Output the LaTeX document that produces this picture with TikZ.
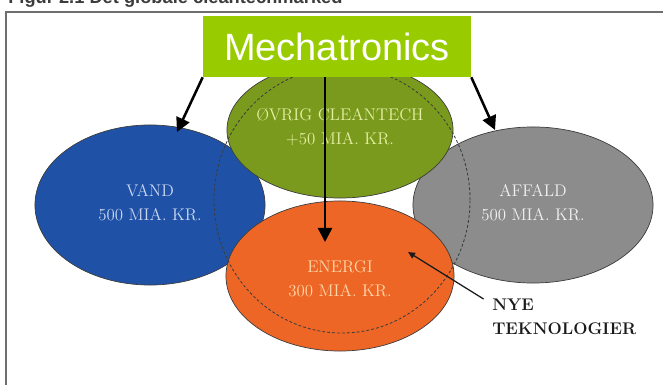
\documentclass[tikz,border=0pt]{standalone}
\usepackage{fontspec}
\usepackage{xcolor}
\usepackage{tikz}
\usetikzlibrary{arrows.meta,positioning,shapes.geometric}
\newfontfamily\headfont{Liberation Sans}
\definecolor{water}{HTML}{1F52A6}
\definecolor{waste}{HTML}{8C8C8C}
\definecolor{moss}{HTML}{7A9A1E}
\definecolor{flame}{HTML}{EE6626}
\definecolor{leaf}{HTML}{99CC00}
\definecolor{ink}{HTML}{1A1A1A}
\definecolor{rulegray}{HTML}{6E6E6E}
\definecolor{watertext}{HTML}{C9D6F2}
\definecolor{wastetext}{HTML}{F0F0F0}
\definecolor{mosstext}{HTML}{E4EFA0}
\definecolor{flametext}{HTML}{FFD7A8}
\tikzset{
  blob/.style={ellipse,draw=ink!85,line width=0.5pt,fill=#1,inner sep=0pt},
  mkt/.style={font=\fontsize{12}{17}\selectfont,text=#1,align=center,inner sep=0pt},
  tag/.style={fill=leaf,text=white,font=\headfont\fontsize{27}{30}\selectfont,minimum width=6.7cm,minimum height=1.525cm,inner sep=0pt},
  arrow/.style={-{Triangle[length=10pt,width=10pt]},line width=1.8pt,color=black},
  thinarrow/.style={-{Triangle[length=5pt,width=4.5pt]},line width=0.9pt,color=ink},
  ring/.style={dash pattern=on 2pt off 1.5pt,line width=0.6pt,draw=ink!85},
  rule/.style={draw=rulegray,line width=1.1pt},
}
\begin{document}
\begin{tikzpicture}[x=0.025cm,y=-0.025cm]
    \useasboundingbox (0,0) rectangle (663,385);
    \node[anchor=base west,inner sep=0pt,text=ink!85,font=\headfont\bfseries\fontsize{13}{15}\selectfont] (title) at (8,4) {Figur 2.1 Det globale cleantechmarked};
    \draw[rule] (6,385) -- (6,12) -- (663,12);
    % the four markets
    \node[blob=water,minimum width=5.75cm,minimum height=4cm] (vand) at (150,205) {};
    \node[blob=waste,minimum width=6cm,minimum height=3.9cm] (affald) at (533,205) {};
    \node[blob=moss,minimum width=5.65cm,minimum height=3.4cm] (ovrig) at (340,130) {};
    \node[blob=flame,minimum width=5.7cm,minimum height=3.75cm] (energi) at (340,276) {};
    \draw[ring] (342,200) ellipse [x radius=3.2cm,y radius=3.325cm];
    \node[mkt=watertext] (vandlbl) at ([yshift=1.5pt]vand.center) {VAND\\500 MIA. KR.};
    \node[mkt=wastetext] (affaldlbl) at ([yshift=1.5pt]affald.center) {AFFALD\\500 MIA. KR.};
    \node[mkt=mosstext] (ovriglbl) at ([yshift=2pt]ovrig.center) {ØVRIG CLEANTECH\\+50 MIA. KR.};
    \node[mkt=flametext] (energilbl) at ([yshift=-2pt]energi.center) {ENERGI\\300 MIA. KR.};
    % mechatronics on top
    \node[tag] (mech) at (337,46.5) {Mechatronics};
    \coordinate (vandtip) at (177,132);
    \coordinate (affaldtip) at (495,130);
    \coordinate (energitip) at (325,242);
    \coordinate (nyetip) at (408,252);
    \draw[arrow] (mech.south west) -- (vandtip);
    \draw[arrow] (mech.south east) -- (affaldtip);
    \draw[arrow] (mech.south -| energitip) -- (energitip);
    \node[anchor=north west,inner sep=0pt,align=left,text=ink,font=\bfseries\fontsize{12}{16.5}\selectfont] (nye) at (492,299) {NYE\\TEKNOLOGIER};
    \draw[thinarrow] ([xshift=-6pt]nye.north west) -- (nyetip);
\end{tikzpicture}
\end{document}
